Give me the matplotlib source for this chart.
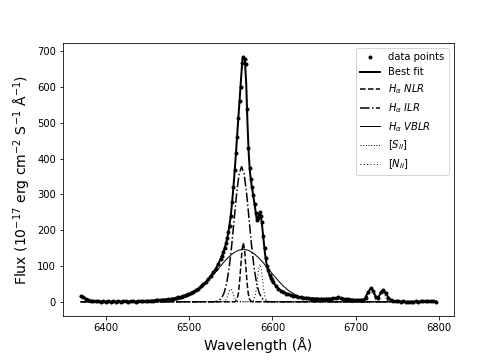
import numpy as np
import matplotlib.pyplot as plt

# observed spectrum: blue wing, line core, red wing
wave_blue = np.arange(6370, 6539, 3)
flux_blue = [16, 12, 8, 5, 3, 2, 1, 1, 0, 1, 0, 1, 0, 1, 0, 1, 0, 1, 1, 0,
             1, 1, 0, 1, 2, 1, 2, 2, 3, 3, 4, 4, 5, 5, 6, 7, 8, 9, 10, 12,
             14, 16, 18, 21, 24, 28, 32, 37, 43, 49, 56, 63, 72, 82, 93, 106, 120]

wave_core = np.arange(6539.5, 6600, 1.5)
flux_core = [128, 138, 150, 163, 178, 195, 212, 240, 278, 322, 368, 415, 462, 515,
             560, 600, 668, 685, 678, 665, 540, 430, 375, 342, 320, 298, 274, 248,
             228, 234, 250, 240, 222, 185, 150, 122, 100, 88, 76, 67, 60]

wave_red = np.arange(6601, 6797, 3)
flux_red = [55, 44, 37, 31, 27, 23, 21, 19, 17, 15, 13, 12, 11, 10, 10, 9, 9, 8,
            8, 8, 7, 8, 8, 9, 10, 11, 12, 11, 9, 8, 7, 6, 5, 5, 4, 4, 5, 10,
            28, 38, 30, 14, 10, 26, 33, 24, 10, 4, 2, 1, 1, 0, 1, 0, -1, 0, 0,
            1, 0, 1, 1, 1, 2, 2, 1, 0]

# best fit model
fit_wave = [6370, 6380, 6390, 6400, 6420, 6440, 6460, 6480, 6490, 6500, 6510, 6520,
            6530, 6535, 6540, 6544, 6547, 6550, 6553, 6556, 6559, 6561, 6562.5,
            6564, 6565.5, 6567, 6568.5, 6570, 6571.5, 6573, 6575, 6577, 6579, 6581,
            6582.5, 6584, 6585.5, 6587, 6589, 6591, 6593, 6595, 6598, 6601, 6605,
            6610, 6620, 6630, 6640, 6660, 6680, 6700, 6710, 6715, 6718, 6721, 6724,
            6727, 6730, 6733, 6736, 6740, 6745, 6760, 6796]
fit_flux = [15, 4, 1, 0.5, 1, 1, 4, 8.5, 14, 22, 35, 55,
            85, 105, 132, 160, 192, 240, 315, 408, 512, 580, 630,
            680, 685, 672, 610, 500, 415, 362, 325, 296, 265, 232,
            230, 248, 245, 225, 180, 135, 104, 85, 66, 54, 42,
            31, 20, 14, 11, 8, 10, 5, 6, 28, 38, 30, 14,
            12, 26, 33, 24, 8, 2, 0, 1]

# H-alpha narrow line region
nlr_wave = [6370, 6554.5, 6556, 6557.5, 6559, 6560.5, 6562, 6563.5, 6565, 6566.5,
            6568, 6569.5, 6571, 6572.5, 6574, 6575.5, 6795]
nlr_flux = [0, 0, 2, 7, 22, 54, 100, 146, 165, 146, 100, 54, 22, 7, 2, 0, 0]

# H-alpha intermediate line region
ilr_wave = [6370, 6530, 6533, 6536, 6539, 6542, 6545, 6548, 6551, 6554, 6557, 6560,
            6563, 6566, 6569, 6572, 6575, 6578, 6581, 6584, 6587, 6590, 6593, 6596, 6795]
ilr_flux = [0, 0, 1, 4, 11, 25, 51, 94, 155, 229, 303, 358,
            378, 358, 303, 229, 155, 94, 51, 25, 11, 4, 1, 0, 0]

# H-alpha very broad line region
vblr_wave = [6370, 6457, 6463, 6469, 6475, 6481, 6487, 6493, 6499, 6505, 6511, 6517,
             6523, 6529, 6535, 6541, 6547, 6553, 6559, 6565, 6571, 6577, 6583, 6589,
             6595, 6601, 6607, 6613, 6619, 6625, 6631, 6637, 6643, 6649, 6655, 6661,
             6667, 6673, 6795]
vblr_flux = [0, 0, 0.5, 1, 2, 4, 6, 10, 15, 23, 32, 44,
             59, 75, 92, 109, 124, 136, 144, 147, 144, 136, 124, 109,
             92, 75, 59, 44, 32, 23, 15, 10, 6, 4, 2, 1,
             0.5, 0, 0]

# [SII] doublet
sii_wave = [6370, 6706, 6707.5, 6709, 6710.5, 6712, 6713.5, 6715, 6716.5, 6718, 6719.5,
            6721, 6722.5, 6724, 6725.5, 6727, 6728.5, 6730, 6731.5, 6733, 6734.5,
            6736, 6737.5, 6739, 6740.5, 6742, 6795]
sii_flux = [0, 0, 0.1, 0.4, 1.7, 5.1, 12.4, 23.1, 33.5, 38, 33.5,
            23.1, 12.8, 6.5, 6.0, 10.8, 19.5, 28.2, 32, 28.2, 19.4,
            10.4, 4.3, 1.4, 0.35, 0, 0]

# [NII] doublet
nii_wave = [6370, 6539.5, 6541, 6542.5, 6544, 6545.5, 6547, 6548.5, 6550, 6551.5, 6553,
            6554.5, 6556, 6557.5, 6559, 6560.5, 6574.5, 6576, 6577.5, 6579, 6580.5,
            6582, 6583.5, 6585, 6586.5, 6588, 6589.5, 6591, 6592.5, 6594, 6595.5, 6795]
nii_flux = [0, 0, 0.4, 1.6, 4.9, 11.7, 21.9, 31.8, 36, 31.8, 21.9,
            11.7, 4.9, 1.6, 0.4, 0, 0, 1.2, 4.6, 14.2, 34.1,
            63.7, 92.7, 105, 92.7, 63.7, 34.1, 14.2, 4.6, 1.2, 0, 0]

wave = np.concatenate([wave_blue, wave_core, wave_red])
flux = np.concatenate([flux_blue, flux_core, flux_red])

plt.figure(figsize=(7, 5), dpi=72)
plt.subplots_adjust(bottom=0.122)
plt.plot(wave, flux, 'k.', markersize=6, label='data points')
plt.plot(fit_wave, fit_flux, 'k-', lw=2, label='Best fit')
plt.plot(nlr_wave, nlr_flux, 'k--', lw=1.5, label=r'$H_{\alpha}\ NLR$')
plt.plot(ilr_wave, ilr_flux, 'k-.', lw=1.5, label=r'$H_{\alpha}\ ILR$')
plt.plot(vblr_wave, vblr_flux, 'k-', lw=1, label=r'$H_{\alpha}\ VBLR$')
plt.plot(sii_wave, sii_flux, 'k:', lw=1, label=r'$[S_{II}]$')
plt.plot(nii_wave, nii_flux, color='k', ls=(0, (1, 2.3)), lw=1, label=r'$[N_{II}]$')
plt.ylim(-40, 723)
plt.xlabel('Wavelength (Å)', fontsize=14)
plt.ylabel(r'Flux ($10^{-17}$ erg cm$^{-2}$ S$^{-1}$ Å$^{-1}$)', fontsize=14)
plt.legend(loc='upper right')
plt.savefig('out.png')
